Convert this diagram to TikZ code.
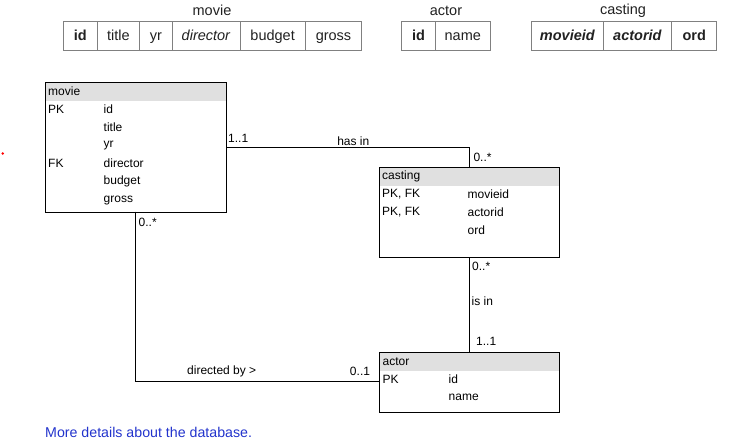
\documentclass[tikz,border=0pt]{standalone}
\usepackage{fontspec}
\setmainfont{Liberation Sans}
\begin{document}
\begin{tikzpicture}[x=1pt,y=-1pt,
  tcell/.style={draw=black!50, line width=1pt, inner sep=0pt, minimum height=29pt, text height=10.6pt, text depth=0pt, text=black!87, font=\fontsize{14.5}{17}\selectfont},
  ttitle/.style={inner sep=0pt, text=black!87, font=\fontsize{14.5}{17}\selectfont},
  ent/.style={draw=black, line width=1pt, inner sep=0pt, anchor=north west,
    path picture={\fill[black!12] (path picture bounding box.north west) rectangle ([yshift=-#1]path picture bounding box.north east);}},
  etext/.style={inner sep=0pt, anchor=west, font=\fontsize{12}{14}\selectfont},
  lbl/.style={inner sep=0pt, anchor=west, font=\fontsize{12}{14}\selectfont},
  clbl/.style={inner sep=0pt, font=\fontsize{12}{14}\selectfont},
  conn/.style={draw=black, line width=1pt},
]
\useasboundingbox (0,0) rectangle (739,443);
% ---------- top tables ----------
\node[ttitle] (tmovie) at (212,10.7) {movie};
\node[tcell, minimum width=34pt] (m1) at (80.3,35.7) {\textbf{id}};
\node[tcell, minimum width=42pt] (m2) at (118.3,35.7) {title};
\node[tcell, minimum width=33pt] (m3) at (155.8,35.7) {yr};
\node[tcell, minimum width=67.7pt] (m4) at (206.15,35.7) {\textit{director}};
\node[tcell, minimum width=65.3pt] (m5) at (272.65,35.7) {budget};
\node[tcell, minimum width=56.4pt] (m6) at (333.5,35.7) {gross};

\node[ttitle] (tactor) at (446,10.7) {actor};
\node[tcell, minimum width=33.6pt] (a1) at (418.5,35.7) {\textbf{id}};
\node[tcell, minimum width=55pt] (a2) at (462.8,35.7) {name};

\node[ttitle] (tcast) at (623,10.7) {casting};
\node[tcell, minimum width=71.6pt] (c1) at (567.5,35.7) {\textbf{\textit{movieid}}};
\node[tcell, minimum width=68.4pt] (c2) at (637.5,35.7) {\textbf{\textit{actorid}}};
\node[tcell, minimum width=45pt] (c3) at (694.2,35.7) {\textbf{ord}};

% ---------- entity boxes ----------
\node[ent=18.4pt, minimum width=180.4pt, minimum height=129.4pt] (mv) at (45.3,82.3) {};
\node[etext] (mvh) at (48,91.7) {movie};
\node[etext] (mvpk) at (48,109.5) {PK};
\node[etext] (mvfk) at (48,163.5) {FK};
\node[etext] (mv1) at (103.5,109.5) {id};
\node[etext] (mv2) at (103.5,127.7) {title};
\node[etext] (mv3) at (103.5,145.7) {yr};
\node[etext] (mv4) at (103.5,163.7) {director};
\node[etext] (mv5) at (103.5,181.9) {budget};
\node[etext] (mv6) at (103.5,200.3) {gross};

\node[ent=17.7pt, minimum width=180pt, minimum height=89.8pt] (cs) at (378.8,167.5) {};
\node[etext] (csh) at (382,176.4) {casting};
\node[etext] (cspk1) at (382,194.2) {PK, FK};
\node[etext] (cspk2) at (382,212.4) {PK, FK};
\node[etext] (cs1) at (467.5,194.2) {movieid};
\node[etext] (cs2) at (467.5,212.4) {actorid};
\node[etext] (cs3) at (467.5,230.6) {ord};

\node[ent=18.4pt, minimum width=179.5pt, minimum height=59.7pt] (ac) at (379.3,352.3) {};
\node[etext] (ach) at (382.5,361.7) {actor};
\node[etext] (acpk) at (382.5,379.5) {PK};
\node[etext] (ac1) at (448.5,379.5) {id};
\node[etext] (ac2) at (448.5,397.7) {name};

% ---------- connectors ----------
\coordinate (hasA) at (225.7,148);
\coordinate (hasB) at (469.5,167.5);
\draw[conn] (mv.east |- hasA) -| (hasB);
\coordinate (isA) at (469.5,257.3);
\coordinate (isB) at (469.5,352.3);
\draw[conn] (isA) -- (isB);
\coordinate (dirA) at (135.5,211.7);
\coordinate (dirB) at (379.3,382);
\draw[conn] (dirA) |- (dirB);

% ---------- labels ----------
\node[lbl] (l11a) at (228,138.3) {1..1};
\node[clbl] (lhas) at (353.3,141) {has in};
\node[lbl] (l0a) at (473.3,157.3) {0..*};
\node[lbl] (l0b) at (472,266.7) {0..*};
\node[lbl] (lisin) at (471.5,301.7) {is in};
\node[lbl] (l11b) at (476,341.7) {1..1};
\node[lbl] (l0c) at (138.5,222) {0..*};
\node[clbl] (ldir) at (221.7,371.7) {directed by >};
\node[clbl] (l01) at (360,371.7) {0..1};

% ---------- misc ----------
\fill[red] (2.8,153.5) circle (1.4);
\node[inner sep=0pt, anchor=west, text={rgb,255:red,34;green,51;blue,204}, font=\fontsize{14.2}{17}\selectfont] (link) at (45,432) {More details about the database.};
\end{tikzpicture}
\end{document}
